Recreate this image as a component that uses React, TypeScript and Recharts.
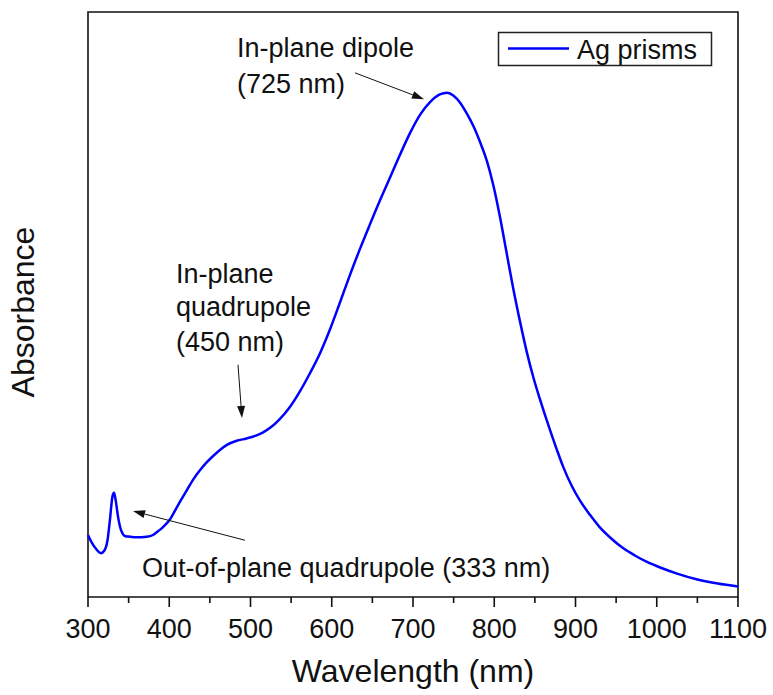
import { LineChart, Line, XAxis, YAxis, ReferenceArea, ReferenceLine } from "recharts";

// wavelength (nm) and absorbance (a.u.)
const wavelengths = [
  300, 305, 310, 316, 320, 324, 327, 330, 332, 334, 337, 341, 346, 352, 360, 372, 380, 385, 392,
  401, 410, 421, 430, 438, 446, 454, 462, 471, 483, 495, 505, 515, 525, 536, 548, 561, 573, 586,
  598, 610, 622, 635, 647, 659, 672, 684, 696, 709, 721, 733, 742, 750, 758, 766, 775, 783, 791,
  799, 807, 815, 823, 832, 840, 848, 856, 862, 869, 877, 885, 895, 905, 918, 930, 944, 958, 973,
  988, 1005, 1025, 1050, 1075, 1100,
];
const absorbance = [
  0.106, 0.092, 0.082, 0.075, 0.079, 0.097, 0.132, 0.171, 0.178, 0.166, 0.137, 0.113, 0.104, 0.103,
  0.102, 0.103, 0.106, 0.111, 0.119, 0.133, 0.155, 0.181, 0.202, 0.217, 0.23, 0.241, 0.251, 0.26,
  0.267, 0.271, 0.275, 0.281, 0.29, 0.304, 0.324, 0.352, 0.382, 0.418, 0.458, 0.503, 0.549, 0.596,
  0.637, 0.677, 0.718, 0.756, 0.792, 0.825, 0.846, 0.859, 0.862, 0.857, 0.845, 0.827, 0.803, 0.776,
  0.745, 0.703, 0.65, 0.59, 0.53, 0.469, 0.419, 0.376, 0.339, 0.313, 0.284, 0.252, 0.222, 0.191,
  0.166, 0.14, 0.119, 0.1, 0.084, 0.071, 0.06, 0.05, 0.04, 0.03, 0.023, 0.018,
];
const xTicks = [
  300, 350, 400, 450, 500, 550, 600, 650, 700, 750, 800, 850, 900, 950, 1000, 1050, 1100,
];

// annotation arrows, in data coordinates: [fromX, fromY, toX, toY]
const arrows = [
  [628.6, 0.896, 713.5, 0.851],
  [484.6, 0.397, 489.5, 0.306],
  [493.2, 0.097, 355.4, 0.147],
];

const data = wavelengths.map((w, i) => ({ w, a: absorbance[i] }));

const FONT = "'Liberation Sans', Arial, sans-serif";
const INK = "#111";

const WaveTick = ({ x, y, payload }: any) => {
  const v = payload.value;
  const major = v % 100 === 0;
  return (
    <g>
      <line x1={x} x2={x} y1={y} y2={y + (major ? 10 : 6)} stroke={INK} strokeWidth={1.6} />
      {major && (
        <text x={x} y={y + 41} textAnchor="middle" fontSize={27} fill={INK} fontFamily={FONT}>
          {v}
        </text>
      )}
    </g>
  );
};

const Arrow = ({ x1, y1, x2, y2 }: any) => {
  const ang = Math.atan2(y2 - y1, x2 - x1);
  const c = Math.cos(ang);
  const s = Math.sin(ang);
  const L = 12;
  const W = 4;
  const bx = x2 - c * L;
  const by = y2 - s * L;
  return (
    <g>
      <line x1={x1} y1={y1} x2={bx} y2={by} stroke={INK} strokeWidth={1} />
      <polygon
        points={`${x2},${y2} ${bx - s * W},${by + c * W} ${bx + s * W},${by - c * W}`}
        fill={INK}
      />
    </g>
  );
};

const txt = { fontFamily: FONT, fontSize: 27, fill: INK } as const;

export default function App() {
  return (
    <div style={{ position: "absolute", left: 0, top: 0, width: 773, height: 695, background: "#fff" }}>
      <LineChart
        width={773}
        height={695}
        data={data}
        margin={{ top: 12, right: 35, bottom: 0, left: 88 }}
      >
        <XAxis
          dataKey="w"
          type="number"
          domain={[300, 1100]}
          ticks={xTicks}
          interval={0}
          axisLine={false}
          tickLine={false}
          tickSize={0}
          tickMargin={0}
          height={98}
          tick={<WaveTick />}
        />
        <YAxis hide domain={[0, 1]} type="number" />
        <Line
          type="monotone"
          dataKey="a"
          stroke="#0000ff"
          strokeWidth={2.5}
          dot={false}
          isAnimationActive={false}
        />
        {arrows.map(([fx, fy, tx, ty], i) => (
          <ReferenceLine
            key={i}
            segment={[
              { x: fx, y: fy },
              { x: tx, y: ty },
            ]}
            ifOverflow="visible"
            shape={<Arrow />}
          />
        ))}
        <ReferenceArea
          x1={300}
          x2={1100}
          y1={0}
          y2={1}
          stroke={INK}
          strokeWidth={1.6}
          fill="none"
          fillOpacity={0}
        />
      </LineChart>
      <svg
        width={773}
        height={695}
        style={{ position: "absolute", left: 0, top: 0, pointerEvents: "none" }}
      >
        <rect x={498.5} y={32.5} width={213} height={33} fill="#fff" stroke="#222" strokeWidth={1.5} />
        <line x1={508} x2={569} y1={48.5} y2={48.5} stroke="#0000ff" strokeWidth={2.5} />
        <text x={577} y={59} {...txt}>Ag prisms</text>
        <text x={237} y={57} {...txt}>In-plane dipole</text>
        <text x={237} y={93} {...txt}>(725 nm)</text>
        <text x={176} y={283} {...txt}>In-plane</text>
        <text x={176} y={316} {...txt}>quadrupole</text>
        <text x={176} y={351} {...txt}>(450 nm)</text>
        <text x={142} y={577} {...txt}>Out-of-plane quadrupole (333 nm)</text>
        <text x={413} y={682} textAnchor="middle" fontFamily={FONT} fontSize={32} fill={INK}>
          Wavelength (nm)
        </text>
        <text
          x={34}
          y={312}
          transform="rotate(-90 34 312)"
          textAnchor="middle"
          fontFamily={FONT}
          fontSize={32}
          fill={INK}
        >
          Absorbance
        </text>
      </svg>
    </div>
  );
}
